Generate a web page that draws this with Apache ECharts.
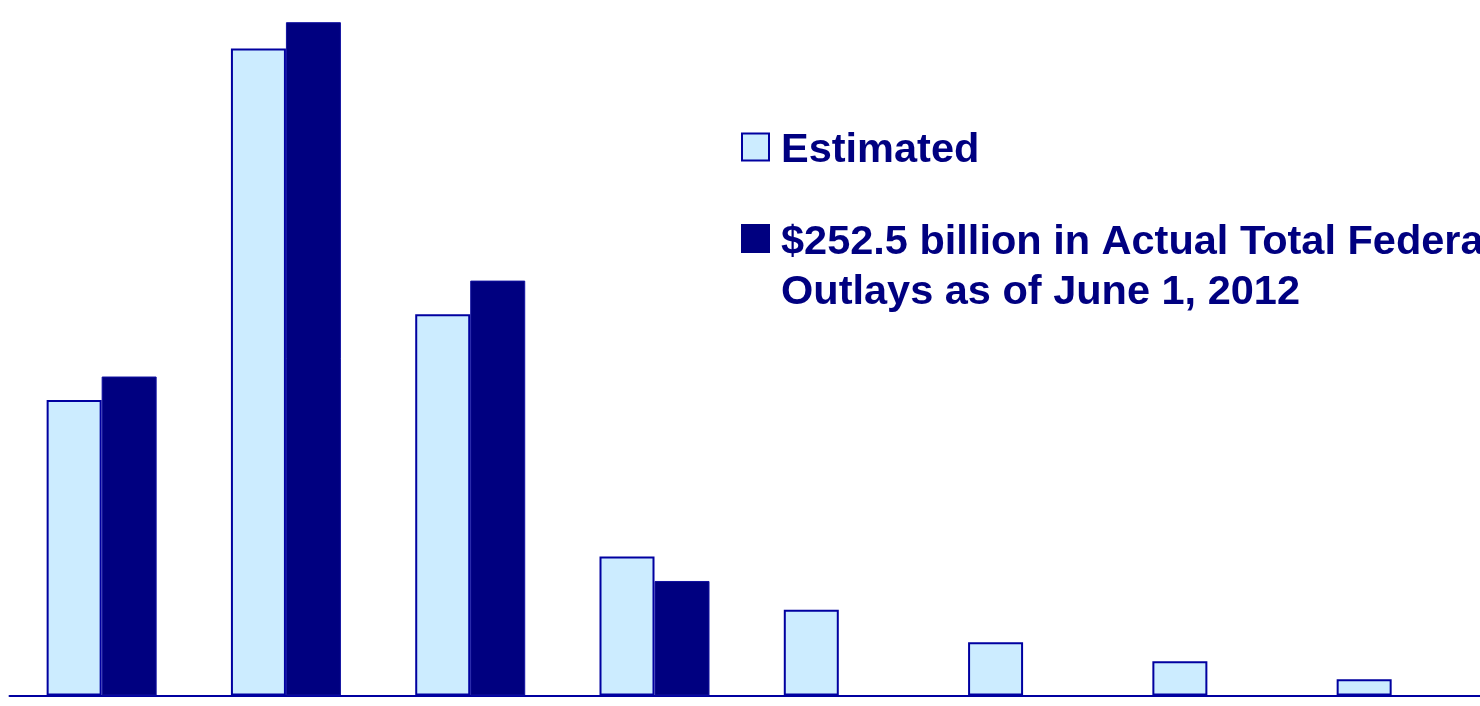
<!DOCTYPE html>
<html>
<head>
<meta charset="utf-8">
<script src="https://cdn.jsdelivr.net/npm/echarts@6/dist/echarts.min.js"></script>
<style>
html,body{margin:0;padding:0;background:#fff;}
#chart{width:1480px;height:706px;}
</style>
</head>
<body>
<div id="chart"></div>
<script>
const categories = ['2009', '2010', '2011', '2012', '2013', '2014', '2015', '2016'];
const estimatedName = 'Estimated';
const actualName = '$252.5 billion in Actual Total Federal\nOutlays as of June 1, 2012';
const estimatedValues = [49.3, 107.9, 63.6, 23.2, 14.3, 8.9, 5.7, 2.7];
const actualValues = [53.2, 112.3, 69.2, 19.1, null, null, null, null];

const NAVY = '#000080';
const LIGHT = '#CCECFF';
const FONT = 'bold 41.5px "Liberation Sans", Arial, sans-serif';

function legendItem(top, name, fill, stroke) {
  const lines = name.split('\n');
  const els = [{
    type: 'rect',
    shape: { x: 742, y: top, width: 27, height: 27 },
    style: { fill: fill, stroke: stroke, lineWidth: 2 }
  }];
  lines.forEach(function (ln, i) {
    els.push({
      type: 'text',
      x: 781,
      y: top + 17.5 + i * 50,
      style: { text: ln, font: FONT, fill: NAVY, verticalAlign: 'middle', align: 'left' }
    });
  });
  return els;
}

const chart = echarts.init(document.getElementById('chart'), null, { renderer: 'canvas' });
chart.setOption({
  animation: false,
  backgroundColor: '#ffffff',
  grid: { left: 9.5, width: 1474.3, top: 0, bottom: 10.5, containLabel: false, outerBoundsMode: 'none' },
  xAxis: {
    type: 'category',
    data: categories,
    axisLine: { show: true, lineStyle: { color: '#0000A0', width: 2 } },
    axisTick: { show: false },
    axisLabel: { show: false },
    splitLine: { show: false }
  },
  yAxis: {
    type: 'value',
    min: 0,
    max: 116,
    show: false,
    splitLine: { show: false }
  },
  series: [
    {
      name: estimatedName,
      type: 'bar',
      data: estimatedValues,
      barWidth: 55,
      barGap: '0%',
      itemStyle: { color: LIGHT, borderColor: '#0000A0', borderWidth: 2 }
    },
    {
      name: actualName,
      type: 'bar',
      data: actualValues,
      barWidth: 55,
      barGap: '0%',
      itemStyle: { color: NAVY, borderColor: '#1010A0', borderWidth: 1 }
    }
  ],
  graphic: [].concat(
    legendItem(133.5, estimatedName, LIGHT, '#0000A0'),
    legendItem(225, actualName, NAVY, NAVY)
  )
});
</script>
</body>
</html>
